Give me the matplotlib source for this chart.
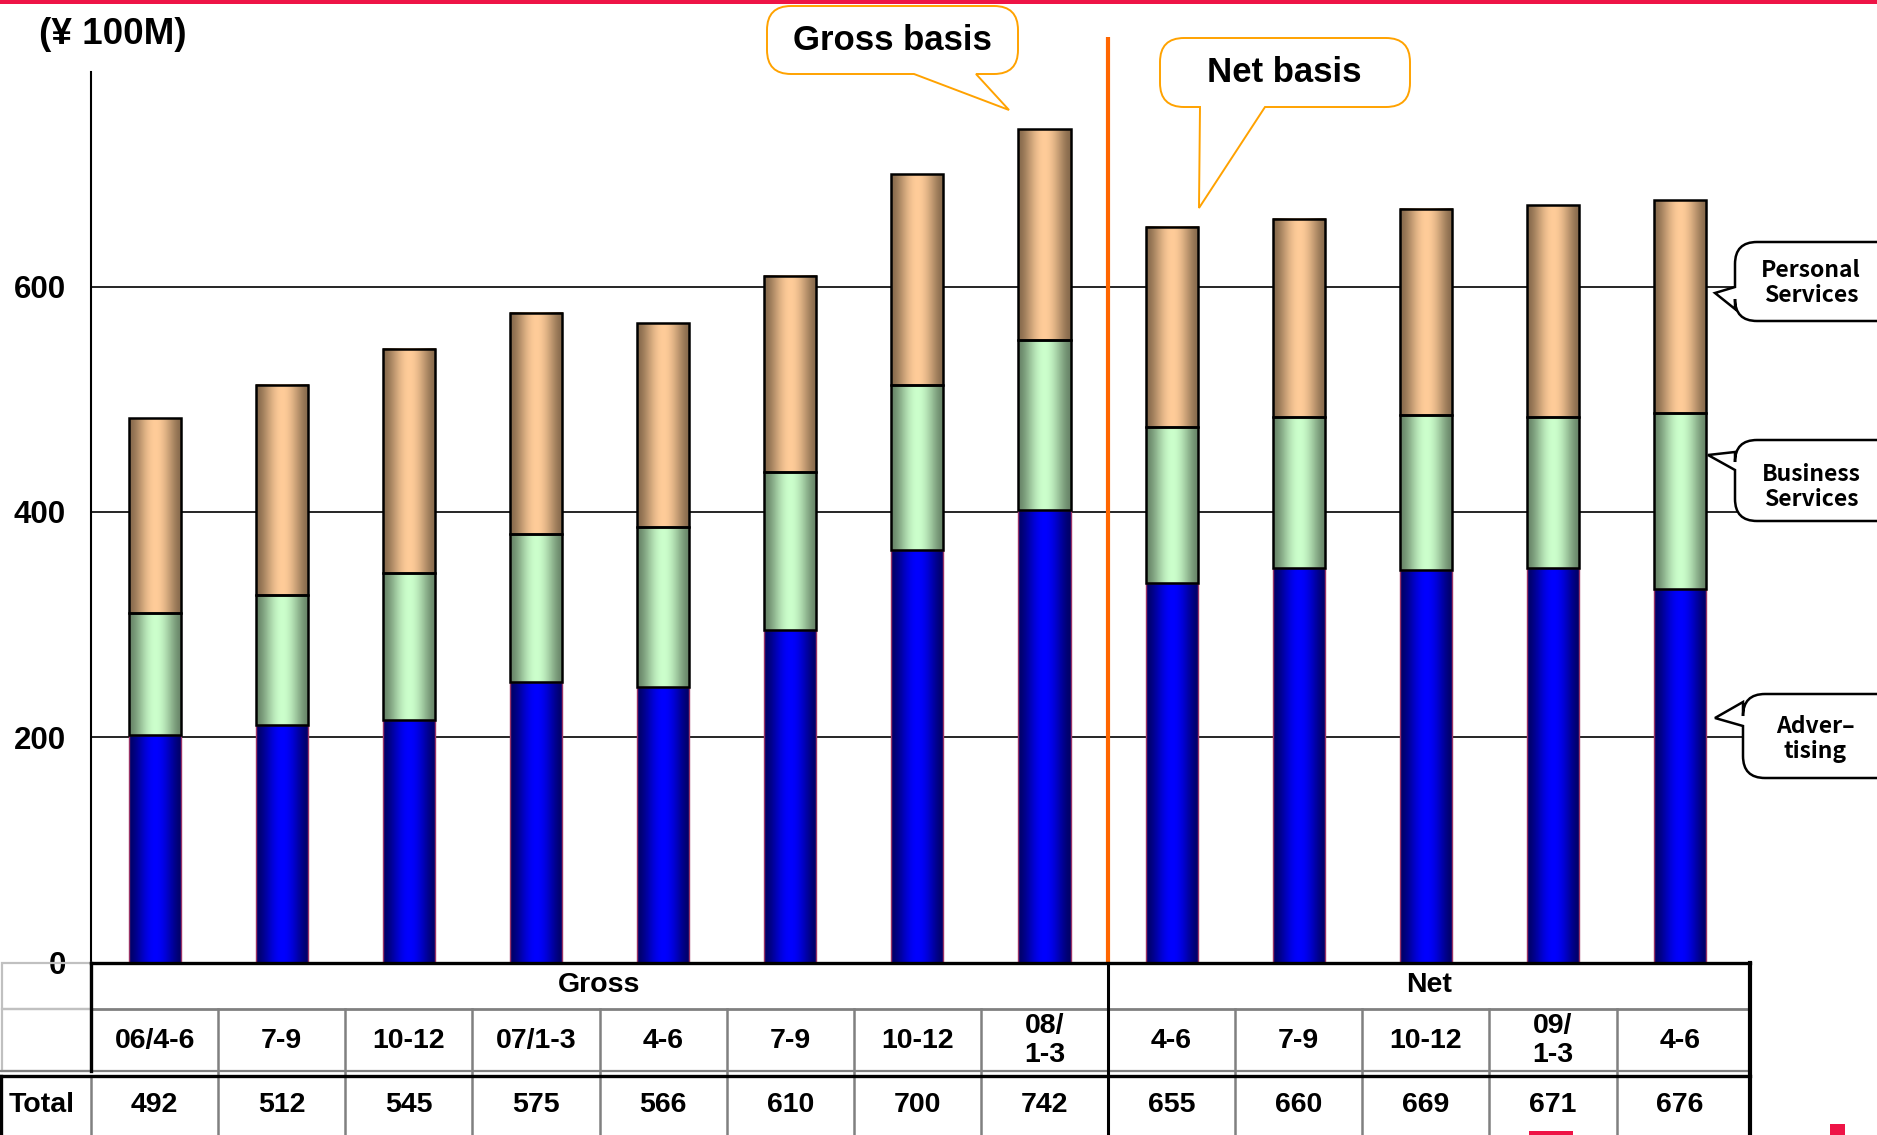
import numpy as np
import matplotlib
matplotlib.use("Agg")
import matplotlib.pyplot as plt
from matplotlib import transforms
from matplotlib.path import Path
from matplotlib.patches import PathPatch, Rectangle
from matplotlib.colors import to_rgb

# quarters (gross basis first 8, net basis last 5)
periods = ["06/4-6", "7-9", "10-12", "07/1-3", "4-6", "7-9", "10-12", "08/\n1-3",
           "4-6", "7-9", "10-12", "09/\n1-3", "4-6"]
totals = ["492", "512", "545", "575", "566", "610", "700", "742",
          "655", "660", "669", "671", "676"]
advertising = [202, 211, 215, 249, 245, 295, 366, 402, 337, 350, 348, 350, 332]
business = [108, 115, 131, 131, 142, 140, 147, 151, 138, 134, 138, 134, 156]
personal = [173, 187, 199, 197, 181, 174, 187, 187, 178, 176, 183, 188, 189]
n_gross = 8
yticks = [0, 200, 400, 600]

W, H = 1877, 1135
ARIAL = ['Liberation Sans', 'DejaVu Sans']
GOTHIC = ['Noto Sans CJK JP', 'DejaVu Sans']


def shade(light, dark, n=90):
    t = np.linspace(0, 1, n)
    f = np.sin(np.pi * t) ** 1.6
    lo, hi = np.array(to_rgb(dark)), np.array(to_rgb(light))
    return (lo + (hi - lo) * f[:, None])[None, :, :]


def callout(ax, x0, y0, x1, y1, r, side, b1, b2, tip, ec, lw):
    # rounded box with a pointer on the bottom or left side (y grows downward)
    C = Path.CURVE3
    L = Path.LINETO
    v = [(x0 + r, y0), (x1 - r, y0), (x1, y0), (x1, y0 + r),
         (x1, y1 - r), (x1, y1), (x1 - r, y1)]
    c = [Path.MOVETO, L, C, C, L, C, C]
    if side == 'bottom':
        v += [(b2, y1), tip, (b1, y1)]
        c += [L, L, L]
    v += [(x0 + r, y1), (x0, y1), (x0, y1 - r)]
    c += [L, C, C]
    if side == 'left':
        v += [(x0, b2), tip, (x0, b1)]
        c += [L, L, L]
    v += [(x0, y0 + r), (x0, y0), (x0 + r, y0), (x0 + r, y0)]
    c += [L, C, C, Path.CLOSEPOLY]
    ax.add_patch(PathPatch(Path(v, c), facecolor='white', edgecolor=ec,
                           lw=lw, joinstyle='miter'))


fig = plt.figure(figsize=(W / 100, H / 100), dpi=100)
ax = fig.add_axes([91 / W, 1 - 962.5 / H, (1750 - 91) / W, (962.5 - 72) / H])

x = np.arange(len(periods))
xmax = len(periods) - 0.45
adv = np.array(advertising)
bus = np.array(business)
layers = [(adv, 0, '#0000FF', '#000068', '#993366', 1.0),
          (bus, adv, '#CCFFCC', '#688568', 'black', 1.8),
          (np.array(personal), adv + bus, '#FFCC99', '#876A4C', 'black', 1.8)]
for vals, bot, light, dark, ec, lw in layers:
    bars = ax.bar(x, vals, bottom=bot, width=0.41, facecolor='none',
                  edgecolor=ec, linewidth=lw, zorder=4)
    g = shade(light, dark)
    for p in bars:
        ax.imshow(g, extent=(p.get_x(), p.get_x() + p.get_width(),
                             p.get_y(), p.get_y() + p.get_height()),
                  aspect='auto', interpolation='bilinear', zorder=3)

ax.set_xlim(-0.5, xmax)
ax.set_ylim(0, 790.5)
ax.set_xticks([])
ax.set_yticks(yticks)
ax.set_yticklabels([str(v) for v in yticks], fontsize=22.5, fontweight='bold',
                   family=ARIAL)
ax.tick_params(axis='y', length=0, pad=18)
for s in ['top', 'right', 'bottom']:
    ax.spines[s].set_visible(False)
ax.spines['left'].set_linewidth(1.5)
ax.spines['left'].set_color('black')
ax.set_axisbelow(True)
ax.yaxis.grid(True, color='black', lw=1.2)

# overlay in pixel coordinates (y downward)
ov = fig.add_axes([0, 0, 1, 1], zorder=5)
ov.set_xlim(0, W)
ov.set_ylim(H, 0)
ov.axis('off')
bt = transforms.blended_transform_factory(ax.transData, ov.transData)

# red slide rule at the top and fragments at the bottom
ov.add_patch(Rectangle((0, 0), W, 3.5, color='#EE1446', lw=0))
ov.add_patch(Rectangle((1529, 1131), 44, 4, color='#EE1446', lw=0))
ov.add_patch(Rectangle((1830, 1124), 15, 11, color='#EE1446', lw=0))

ov.text(39, 34, "(¥ 100M)", fontsize=26.5, fontweight='bold', family=ARIAL,
        ha='left', va='center')

# gross / net divider
ov.plot([n_gross - 0.5] * 2, [37, 962], transform=bt, color='#FF6600',
        lw=3.0, solid_capstyle='butt')

orange = '#FFA200'
callout(ov, 767, 6, 1018, 74, 24, 'bottom', 914, 976, (1009, 110), orange, 1.4)
ov.text(892, 41, "Gross basis", fontsize=25, fontweight='bold', family=ARIAL,
        ha='center', va='center')
callout(ov, 1160, 38, 1410, 107, 24, 'bottom', 1200, 1265, (1199, 208), orange, 1.4)
ov.text(1284, 73, "Net basis", fontsize=25, fontweight='bold', family=ARIAL,
        ha='center', va='center')

# segment labels at the right
callout(ov, 1735, 242, 1900, 321, 22, 'left', 287, 309, (1715, 293), 'black', 1.8)
ov.text(1811, 283, "Personal\nServices", fontsize=16.5, fontweight='bold',
        family=GOTHIC, ha='center', va='center', linespacing=1.12)
callout(ov, 1735, 440, 1900, 521, 22, 'left', 452, 470, (1708, 455), 'black', 1.8)
ov.text(1811, 487, "Business\nServices", fontsize=16.5, fontweight='bold',
        family=GOTHIC, ha='center', va='center', linespacing=1.12)
callout(ov, 1743, 694, 1900, 778, 22, 'left', 702, 726, (1715, 718), 'black', 1.8)
ov.text(1815, 739, "Adver\u2013\ntising", fontsize=16.5, fontweight='bold',
        family=GOTHIC, ha='center', va='center', linespacing=1.12)

# data table under the chart
n = len(periods)
left, right = -0.5, xmax
y_top, y_mid, y_gray, y_tot, y_bot = 962.5, 1009, 1071, 1076, 1140
gray = '#808080'
light_gray = '#C0C0C0'

ov.add_patch(Rectangle((2, y_top), 89, y_mid - y_top, fill=False, ec=light_gray, lw=1.6))
ov.add_patch(Rectangle((2, y_mid), 89, y_gray - y_mid, fill=False, ec=light_gray, lw=1.6))
ov.plot([left, right], [y_mid, y_mid], transform=bt, color=gray, lw=2.0)
for i in range(1, n):
    if i == n_gross:
        continue
    ov.plot([i - 0.5] * 2, [y_mid, y_bot], transform=bt, color=gray, lw=1.8)
ov.plot([91, 91], [y_tot, y_bot], color=gray, lw=1.8)
ov.plot([0, 1750], [y_gray, y_gray], color=gray, lw=1.6)
ov.plot([0, 1750], [y_tot, y_tot], color='black', lw=2.4)
ov.plot([1.5, 1.5], [y_tot, y_bot], color='black', lw=2.4)
ov.plot([left, left], [y_top, y_gray], transform=bt, color='black', lw=2.4)
ov.plot([n_gross - 0.5] * 2, [y_top, y_bot], transform=bt, color='black', lw=2.2)
ov.plot([right, right], [y_top, y_bot], transform=bt, color='black', lw=3.0)
ov.plot([left, right], [y_top, y_top], transform=bt, color='black', lw=2.4,
        solid_capstyle='projecting')

tkw = dict(fontsize=20.5, fontweight='bold', family=ARIAL, ha='center',
           va='center', transform=bt)
ov.text((left + n_gross - 0.5) / 2, 985, "Gross", **tkw)
ov.text((n_gross - 0.5 + right) / 2, 985, "Net", **tkw)
for i, lab in enumerate(periods):
    ov.text(i, 1041, lab, linespacing=1.15, **tkw)
for i, t in enumerate(totals):
    ov.text(i, 1105, t, **tkw)
ov.text(9, 1105, "Total", fontsize=20.5, fontweight='bold', family=ARIAL,
        ha='left', va='center')

fig.savefig("out.png", dpi=100)
